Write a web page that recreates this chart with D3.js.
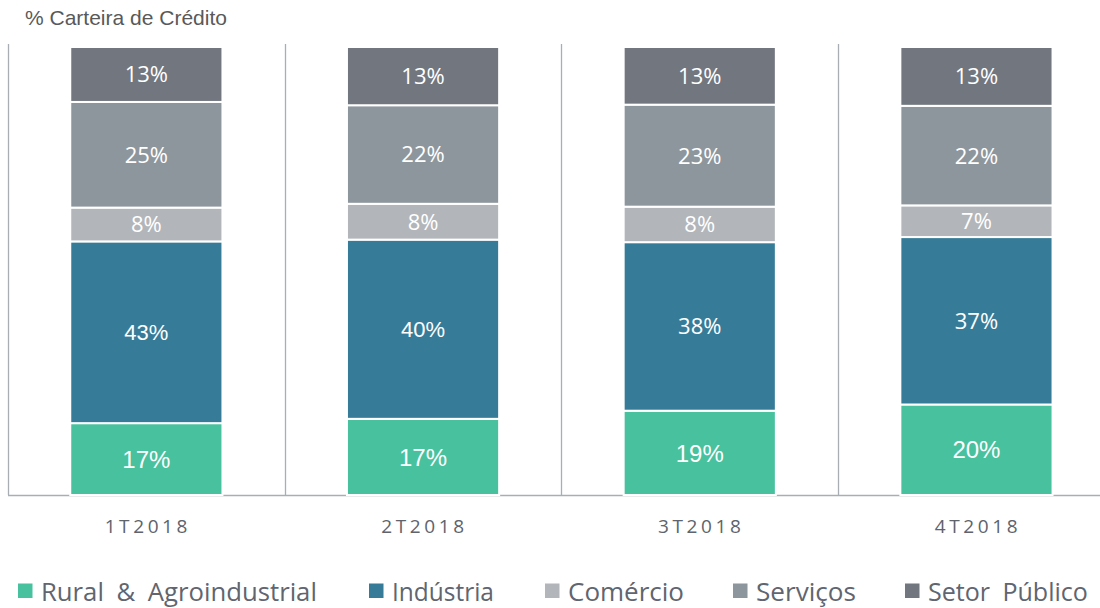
<!DOCTYPE html>
<html>
<head>
<meta charset="utf-8">
<script src="https://d3js.org/d3.v7.min.js"></script>
<style>
  body { margin: 0; background: #fff; }
  svg { display: block; }
</style>
</head>
<body>
<script>
// data (rounded labels, bars normalised to full height)
var quarters = ["1T2018", "2T2018", "3T2018", "4T2018"];
var seriesNames = ["Rural & Agroindustrial", "Indústria", "Comércio", "Serviços", "Setor Público"];
var rural = [17, 17, 19, 20];
var industria = [43, 40, 38, 37];
var comercio = [8, 8, 8, 7];
var servicos = [25, 22, 23, 22];
var setorPublico = [13, 13, 13, 13];

var colors = ["#48c19e", "#367c99", "#b2b6ba", "#8e969d", "#72767f"];

var width = 1100, height = 608;
var plotTop = 47, plotBottom = 495, plotLeft = 8;

var arial = "'Liberation Sans', Arial, sans-serif";
var humanist = "'Open Sans', 'Noto Sans', sans-serif";

var svg = d3.select("body").append("svg")
    .attr("width", width).attr("height", height);

// build table for d3.stack
var table = quarters.map(function (q, i) {
  return {
    q: q,
    "Rural & Agroindustrial": rural[i],
    "Indústria": industria[i],
    "Comércio": comercio[i],
    "Serviços": servicos[i],
    "Setor Público": setorPublico[i]
  };
});

var stack = d3.stack().keys(seriesNames).offset(d3.stackOffsetExpand);
var layers = stack(table);

var x = d3.scaleBand().domain(quarters)
    .range([plotLeft, plotLeft + 4 * 276.7])
    .paddingInner(0.45).paddingOuter(0.225);
var y = d3.scaleLinear().domain([0, 1]).range([plotBottom, plotTop]);

// vertical separators at band starts
var step = x.step();
svg.selectAll("line.sep")
  .data(quarters)
  .enter().append("line")
    .attr("class", "sep")
    .attr("x1", function (d) { return Math.round(x(d) - x.paddingOuter() * step) + 0.5; })
    .attr("x2", function (d) { return Math.round(x(d) - x.paddingOuter() * step) + 0.5; })
    .attr("y1", 44).attr("y2", plotBottom)
    .attr("stroke", "#a9aeb5").attr("stroke-width", 1.3);

// bottom axis line
svg.append("line")
  .attr("x1", plotLeft).attr("x2", width)
  .attr("y1", plotBottom + 0.5).attr("y2", plotBottom + 0.5)
  .attr("stroke", "#a9aeb5").attr("stroke-width", 1.5);

// stacked segments
var g = svg.selectAll("g.layer")
  .data(layers)
  .enter().append("g")
    .attr("class", "layer")
    .attr("fill", function (d, i) { return colors[i]; });

g.selectAll("rect")
  .data(function (d) { return d; })
  .enter().append("rect")
    .attr("x", function (d) { return x(d.data.q); })
    .attr("width", x.bandwidth())
    .attr("y", function (d) { return y(d[1]); })
    .attr("height", function (d) { return y(d[0]) - y(d[1]); })
    .attr("stroke", "#fff").attr("stroke-width", 2);

// value labels (the original mixes Arial and a humanist face)
layers.forEach(function (layer, li) {
  svg.selectAll("text.v" + li)
    .data(layer)
    .enter().append("text")
      .attr("class", "v" + li)
      .attr("x", function (d) { return x(d.data.q) + x.bandwidth() / 2; })
      .attr("y", function (d) { return (y(d[0]) + y(d[1])) / 2; })
      .attr("dy", "0.36em")
      .attr("text-anchor", "middle")
      .attr("fill", "#fff")
      .style("font-family", function (d, i) {
        return (li === 0 || (li === 1 && i < 2)) ? arial : humanist;
      })
      .style("font-size", li === 0 ? "24px" : "22px")
      .text(function (d) { return d.data[layer.key] + "%"; });
});

// category labels
svg.selectAll("text.cat")
  .data(quarters)
  .enter().append("text")
    .attr("class", "cat")
    .attr("x", function (d) { return x(d) + x.bandwidth() / 2 + 1.5; })
    .attr("y", 533)
    .attr("text-anchor", "middle")
    .attr("fill", "#5e636c")
    .style("font-family", humanist)
    .style("font-size", "19px")
    .style("letter-spacing", "3.6px")
    .text(function (d) { return d; });

// title
svg.append("text")
  .attr("x", 25).attr("y", 25)
  .attr("fill", "#595959")
  .style("font-family", arial)
  .style("font-size", "21px")
  .text("% Carteira de Crédito");

// legend: condensed look by squeezing a larger font horizontally
var legendX = [18, 369, 545, 733, 905];
var legendW = [276, 102, 116, 100, 160];
var lg = svg.selectAll("g.leg")
  .data(seriesNames)
  .enter().append("g")
    .attr("class", "leg")
    .attr("transform", function (d, i) { return "translate(" + legendX[i] + ",591)"; });

lg.append("rect")
  .attr("x", 0).attr("y", -7.5).attr("width", 14.5).attr("height", 14.5)
  .attr("fill", function (d, i) { return colors[i]; });

lg.append("text")
  .attr("y", 10)
  .attr("fill", "#60656f")
  .style("font-family", humanist)
  .style("font-size", "26px")
  .style("word-spacing", "6px")
  .text(function (d) { return d; })
  .each(function (d, i) {
    var w = this.getComputedTextLength();
    var s = legendW[i] / w;
    d3.select(this).attr("transform", "translate(23,0) scale(" + s + ",1)");
  });
</script>
</body>
</html>
